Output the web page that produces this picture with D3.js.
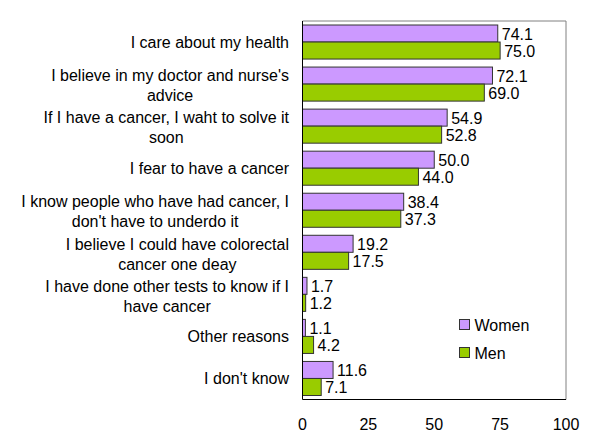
<!DOCTYPE html>
<html>
<head>
<meta charset="utf-8">
<script src="https://cdn.jsdelivr.net/npm/d3@7"></script>
<style>
	body { margin: 0; background: #fff; }
	text { font-family: Arial, "Liberation Sans", sans-serif; font-size: 16px; fill: #000; }
</style>
</head>
<body>
<svg width="600" height="444"></svg>
<script>
// data........................................................................

var categories = [
	["I care about my health"],
	["I believe in my doctor and nurse's", "advice"],
	["If I have a cancer, I waht to solve it", "soon"],
	["I fear to have a cancer"],
	["I know people who have had cancer, I", "don't have to underdo it"],
	["I believe I could have colorectal", "cancer one deay"],
	["I have done other tests to know if I", "have cancer"],
	["Other reasons"],
	["I don't know"]
];
var series = ["Women", "Men"];
var women = [74.1, 72.1, 54.9, 50.0, 38.4, 19.2, 1.7, 1.1, 11.6];
var men = [75.0, 69.0, 52.8, 44.0, 37.3, 17.5, 1.2, 4.2, 7.1];
var ticks = [0, 25, 50, 75, 100];
var colors = ["#cc99ff", "#99cc00"];

// layout......................................................................

var svg = d3.select("svg"),
	plotLeft = 302.5, plotRight = 566, plotTop = 21, plotBottom = 399.5,
	labelRight = 289, lineGap = 20;

var x = d3.scaleLinear().domain([0, 100]).range([plotLeft, plotRight]),
	y = d3.scaleBand().domain(d3.range(categories.length)).range([plotTop, plotBottom]),
	y1 = d3.scaleBand().domain(series).range([4, y.bandwidth() - 4]);

var rows = categories.map(function(c, i) {
	return {i: i, lines: c, values: [women[i], men[i]]};
});

// frame
svg.append("path")
	.attr("d", "M" + plotLeft + "," + plotTop + "H" + plotRight + "V" + plotBottom)
	.attr("fill", "none").attr("stroke", "#808080");

// bars
var groups = svg.append("g").selectAll("g")
	.data(rows)
	.enter().append("g")
		.attr("transform", function(d) { return "translate(0," + y(d.i) + ")"; });

groups.selectAll("rect")
	.data(function(d) { return d.values.map(function(v, k) { return {k: k, v: v}; }); })
	.enter().append("rect")
		.attr("x", x(0))
		.attr("y", function(d) { return y1(series[d.k]); })
		.attr("width", function(d) { return x(d.v) - x(0); })
		.attr("height", y1.bandwidth())
		.attr("fill", function(d) { return colors[d.k]; })
		.attr("stroke", "#333")
		.attr("stroke-width", 1);

groups.selectAll("text.val")
	.data(function(d) { return d.values.map(function(v, k) { return {k: k, v: v}; }); })
	.enter().append("text")
		.attr("class", "val")
		.attr("x", function(d) { return x(d.v) + 4; })
		.attr("y", function(d) { return y1(series[d.k]) + y1.bandwidth() / 2 + 6.5; })
		.text(function(d) { return d.v.toFixed(1); });

svg.append("path")
	.attr("d", "M" + plotLeft + "," + plotTop + "V" + plotBottom + "H" + plotRight)
	.attr("fill", "none").attr("stroke", "#000");

// category labels, wrapped lines centred on the first line
svg.append("g").selectAll("text")
	.data(rows)
	.enter().append("text")
		.each(function(d) {
			var t = d3.select(this),
				c = y(d.i) + y.bandwidth() / 2,
				n = d.lines.length,
				y0 = c - (n - 1) * lineGap / 2 + (n > 1 ? 1.2 : 0) + 6,
				w0;
			d.lines.forEach(function(line, j) {
				var s = t.append("tspan")
					.attr("y", y0 + j * lineGap)
					.text(line);
				if (j == 0) {
					s.attr("x", labelRight).attr("text-anchor", "end");
					w0 = s.node().getComputedTextLength();
				} else {
					s.attr("x", labelRight - w0 / 2).attr("text-anchor", "middle");
				}
			});
		});

// x axis labels
svg.append("g").selectAll("text")
	.data(ticks)
	.enter().append("text")
		.attr("x", function(d) { return x(d); })
		.attr("y", 430)
		.attr("text-anchor", "middle")
		.text(function(d) { return d; });

// legend
var legend = svg.append("g").selectAll("g")
	.data(series)
	.enter().append("g")
		.attr("transform", function(d, i) { return "translate(459.5," + (319.5 + i * 28) + ")"; });
legend.append("rect")
	.attr("width", 10).attr("height", 10)
	.attr("fill", function(d, i) { return colors[i]; })
	.attr("stroke", "#333");
legend.append("text")
	.attr("x", 15).attr("y", 11)
	.text(function(d) { return d; });
</script>
</body>
</html>
